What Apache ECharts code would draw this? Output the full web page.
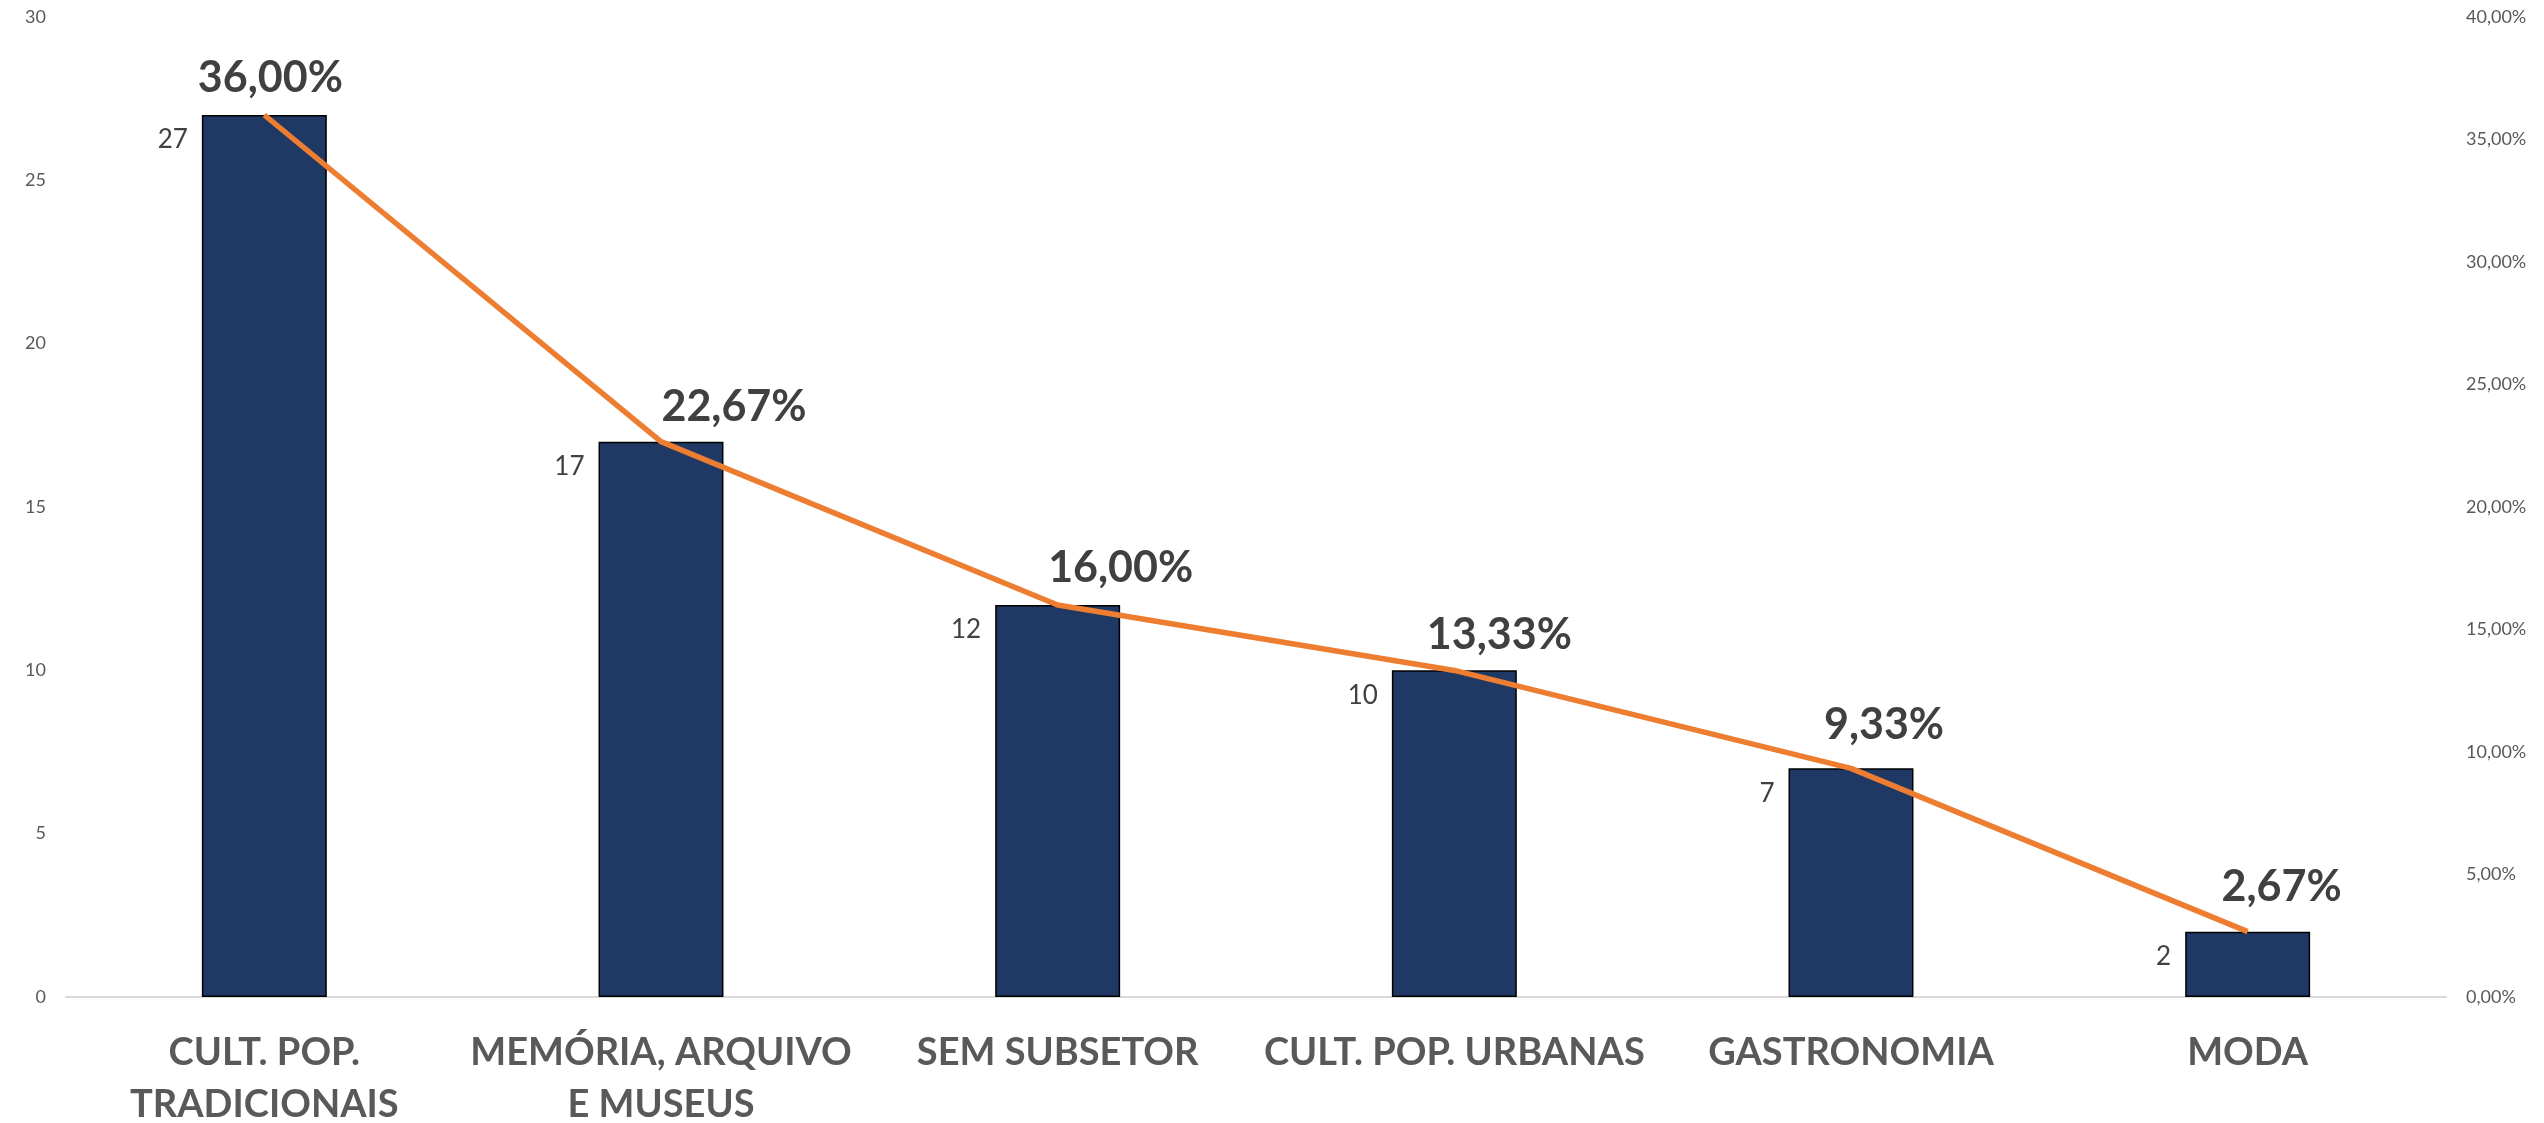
<!DOCTYPE html>
<html>
<head>
<meta charset="utf-8">
<script src="https://cdn.jsdelivr.net/npm/echarts@6/dist/echarts.min.js"></script>
<style>
  html, body { margin: 0; padding: 0; background: #fff; }
  #chart { width: 2544px; height: 1123px; }
</style>
</head>
<body>
<div id="chart"></div>
<script>
// categorias (subsetores)
const categories = [
  'CULT. POP.\nTRADICIONAIS',
  'MEMÓRIA, ARQUIVO\nE MUSEUS',
  'SEM SUBSETOR',
  'CULT. POP. URBANAS',
  'GASTRONOMIA',
  'MODA'
]
// quantidade por subsetor
const counts = [27, 17, 12, 10, 7, 2]
// percentual por subsetor
const percents = [36.00, 22.67, 16.00, 13.33, 9.33, 2.67]
// ticks dos eixos
const leftTicks = { min: 0, max: 30, interval: 5 }
const rightTicks = { min: 0, max: 40, interval: 5 }

// deslocamento manual dos rótulos de percentual (como no original)
const pctLabelOffset = [[6, -37], [73, -34], [63, -37], [45, -35], [33, -43], [34, -44]]

const fmtPct = v => v.toFixed(2).replace('.', ',') + '%'
const font = 'Lato, "Open Sans", sans-serif'

const chart = echarts.init(document.getElementById('chart'))
chart.setOption({
  animation: false,
  textStyle: { fontFamily: font },
  // sem ajuste automático: os rótulos podem encostar na borda
  grid: { left: 66, right: 98, top: 17, bottom: 126, outerBoundsMode: 'none', containLabel: false },
  xAxis: {
    type: 'category',
    data: categories,
    axisTick: { show: false },
    axisLine: { lineStyle: { color: '#d9d9d9', width: 2 } },
    axisLabel: {
      interval: 0,
      color: '#595959',
      fontSize: 38,
      fontWeight: 'bold',
      lineHeight: 52,
      margin: 30
    }
  },
  yAxis: [
    {
      type: 'value',
      min: leftTicks.min,
      max: leftTicks.max,
      interval: leftTicks.interval,
      axisLine: { show: false },
      splitLine: { show: false },
      axisLabel: { color: '#595959', fontSize: 18, margin: 20 }
    },
    {
      type: 'value',
      min: rightTicks.min,
      max: rightTicks.max,
      interval: rightTicks.interval,
      axisLine: { show: false },
      splitLine: { show: false },
      axisLabel: { color: '#595959', fontSize: 18, margin: 20, formatter: fmtPct }
    }
  ],
  series: [
    {
      type: 'bar',
      data: counts,
      barWidth: '31.5%',
      itemStyle: { color: '#203864', borderColor: '#000', borderWidth: 1.5 },
      label: {
        show: true,
        position: [-14, 25],
        align: 'right',
        verticalAlign: 'middle',
        color: '#404040',
        fontSize: 26
      },
      z: 2
    },
    {
      type: 'line',
      yAxisIndex: 1,
      data: percents.map((v, i) => ({
        value: v,
        label: { offset: pctLabelOffset[i] }
      })),
      symbol: 'circle',
      symbolSize: 1,
      lineStyle: { color: '#ed7d31', width: 5.5 },
      itemStyle: { color: '#ed7d31' },
      label: {
        show: true,
        position: 'inside',
        color: '#404040',
        fontSize: 43,
        fontWeight: 'bold',
        formatter: p => fmtPct(p.value)
      },
      z: 3
    }
  ]
})
</script>
</body>
</html>
